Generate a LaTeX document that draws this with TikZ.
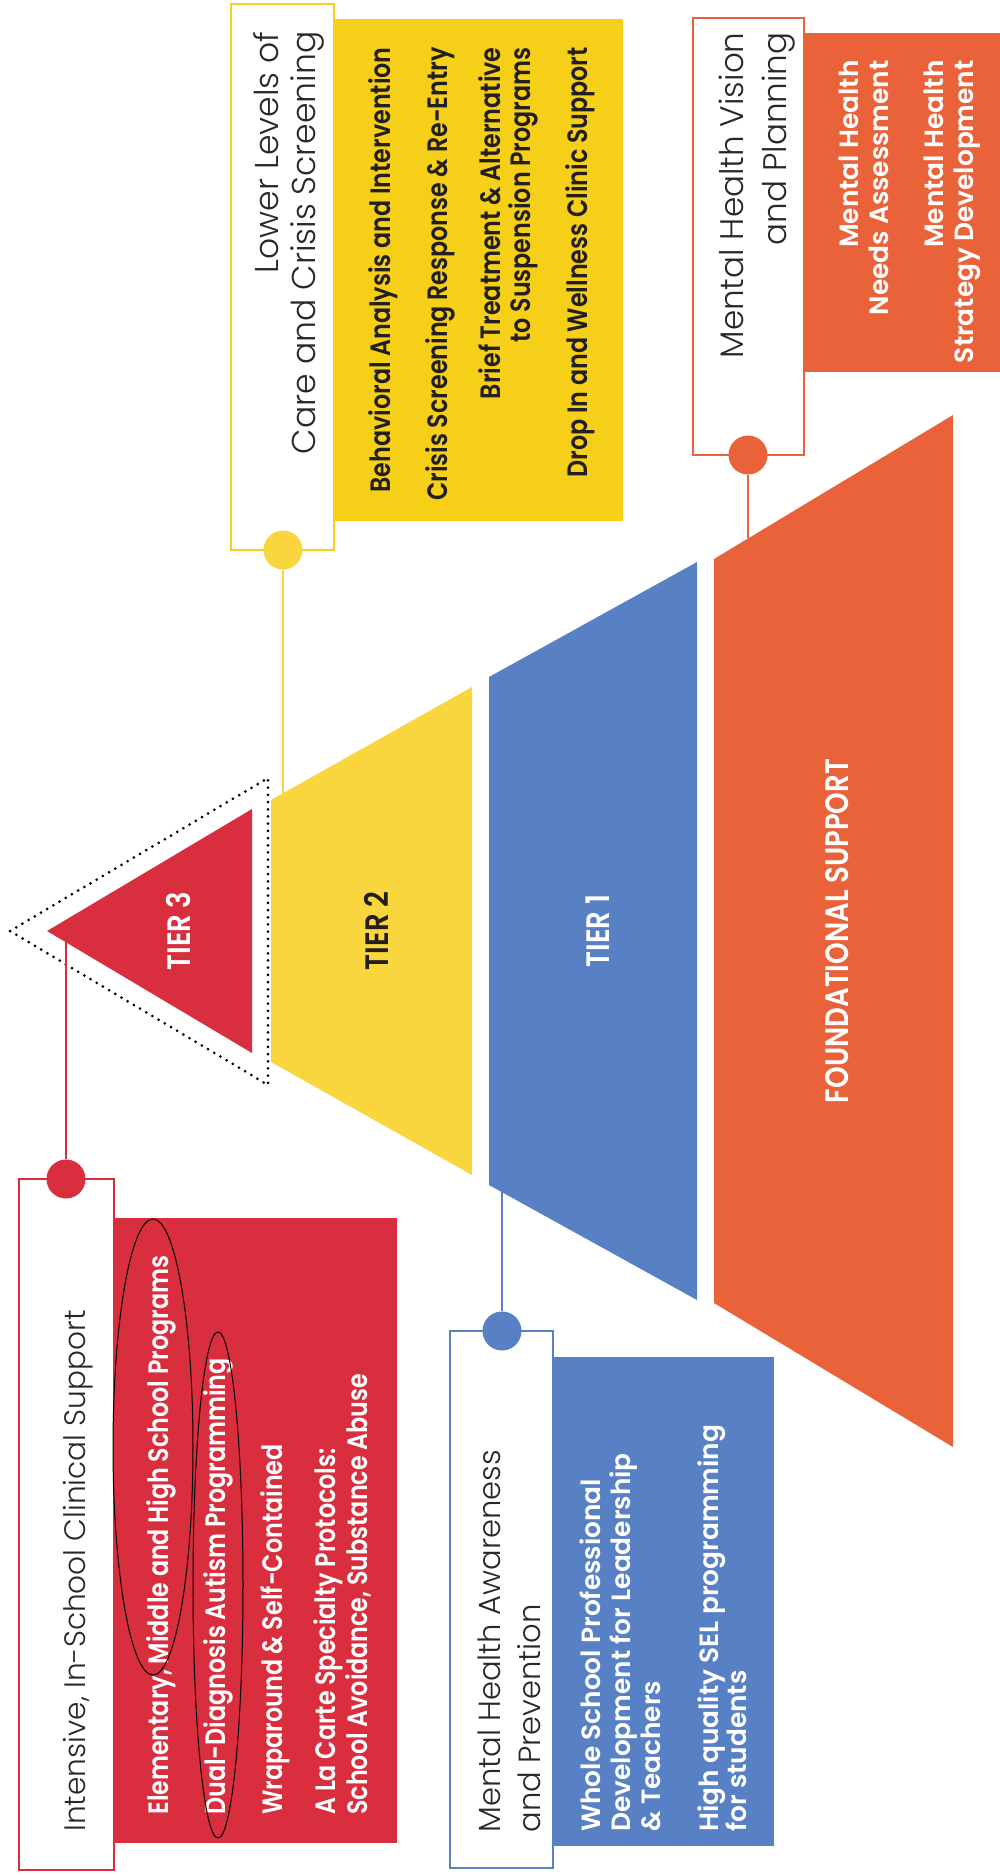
\documentclass[tikz,border=0pt]{standalone}
\usepackage{fontspec}
\usepackage{xcolor}
\usepackage{tikz}
\newfontfamily\lightfont{Poppins Light}
\newfontfamily\heavyfont{Poppins SemiBold}[FakeStretch=0.85]
\newfontfamily\wideheavyfont{Poppins SemiBold}
\definecolor{tierred}{RGB}{216,46,62}
\definecolor{tieryellow}{RGB}{250,214,62}
\definecolor{boxyellow}{RGB}{246,208,24}
\definecolor{tierblue}{RGB}{88,128,196}
\definecolor{tierorange}{RGB}{233,98,58}
\definecolor{inkdark}{RGB}{35,31,32}
\definecolor{titlegray}{RGB}{40,40,40}

\begin{document}
\begin{tikzpicture}[x=0.5pt, y=-0.5pt,
    heading/.style={rotate=90, inner sep=0pt, text=titlegray, font=\lightfont\fontsize{#1}{#1}\selectfont},
    item/.style={rotate=90, inner sep=0pt, font=\heavyfont\fontsize{14}{16}\selectfont},
    wideitem/.style={rotate=90, inner sep=0pt, font=\wideheavyfont\fontsize{#1}{#1}\selectfont},
    tierlabel/.style={rotate=90, font=\heavyfont\fontsize{16.2}{18}\selectfont},
    dot/.style={circle, inner sep=0pt, minimum size=19.5pt},
    hbox/.style={fill=white, line width=0.6pt}]
        \fill[white] (0,0) rectangle (1000,1875);

        % the pyramid
        \fill[tierred] (47,931) -- (252,809) -- (252,1053) -- cycle;
        \fill[tieryellow] (271,800) -- (472,687) -- (472,1175) -- (271,1062) -- cycle;
        \fill[tierblue] (489,677) -- (697,562) -- (697,1300) -- (489,1185) -- cycle;
        \fill[tierorange] (714,559) -- (953,415) -- (953,1447) -- (714,1303) -- cycle;
        \draw[line width=1.5pt, dash pattern=on 0pt off 3.6pt, line cap=round] (10,931) -- (268,778) -- (268,1085) -- cycle;

        \node[tierlabel, text=white] (t3) at (178,931) {TIER 3};
        \node[tierlabel, text=inkdark] (t2) at (376,931) {TIER 2};
        \node[tierlabel, text=white] (t1) at (598,931) {TIER 1};
        \node[tierlabel, text=white] (t0) at (837,931) {FOUNDATIONAL SUPPORT};

        % tier 3 panel
        \draw[hbox, draw=tierred] (19,1179) rectangle (114,1870);
        \fill[tierred] (114,1218) rectangle (397,1843);
        \node[dot, fill=tierred] (d3) at (66,1179) {};
        \coordinate (e3) at (66,942);
        \draw[tierred, line width=0.6pt] (d3) -- (e3);
        \node[heading=14.8, anchor=base west] (h3) at (85,1832) {Intensive, In-School Clinical Support};
        \node[item, text=white, anchor=base west] (a3) at (168,1815) {Elementary, Middle and High School Programs};
        \node[item, text=white, anchor=base west] (b3) at (225,1815) {Dual-Diagnosis Autism Programming};
        \node[item, text=white, anchor=base west] (c3) at (282,1815) {Wraparound \& Self-Contained};
        \node[item, text=white, anchor=base west] (f3) at (335,1815) {A La Carte Specialty Protocols:};
        \node[item, text=white, anchor=base west] (g3) at (367,1815) {School Avoidance, Substance Abuse};
        \draw[line width=0.5pt] (153,1447) ellipse [x radius=40, y radius=228];
        \draw[line width=0.5pt] (218,1585) ellipse [x radius=25, y radius=253];

        % tier 2 panel
        \draw[hbox, draw=boxyellow] (231,4) rectangle (334,550);
        \fill[boxyellow] (334,19) rectangle (623,521);
        \node[dot, fill=tieryellow] (d2) at (283,550) {};
        \coordinate (e2) at (283,794);
        \draw[tieryellow, line width=0.6pt] (d2) -- (e2);
        \node[heading=16.5, anchor=base east] (h2) at (278,31) {Lower Levels of};
        \node[heading=16.5, anchor=base east] (k2) at (315,31) {Care and Crisis Screening};
        \node[item, text=inkdark, anchor=base east] (a2) at (390,47) {Behavioral Analysis and Intervention};
        \node[item, text=inkdark, anchor=base east] (b2) at (447,47) {Crisis Screening Response \& Re-Entry};
        \node[item, text=inkdark, anchor=base east] (c2) at (500,47) {Brief Treatment \& Alternative};
        \node[item, text=inkdark, anchor=base east] (f2) at (530,47) {to Suspension Programs};
        \node[item, text=inkdark, anchor=base east] (g2) at (587,47) {Drop In and Wellness Clinic Support};

        % tier 1 panel
        \draw[hbox, draw=tierblue] (450,1331) rectangle (553,1868);
        \fill[tierblue] (553,1357) rectangle (774,1846);
        \node[dot, fill=tierblue] (d1) at (502,1331) {};
        \coordinate (e1) at (502,1192);
        \draw[tierblue, line width=0.6pt] (d1) -- (e1);
        \node[heading=15.3, anchor=base west] (h1) at (500,1833) {Mental Health Awareness};
        \node[heading=15.3, anchor=base west] (k1) at (540,1833) {and Prevention};
        \node[wideitem=13.2, text=white, anchor=base west] (a1) at (600,1832) {Whole School Professional};
        \node[wideitem=13.2, text=white, anchor=base west] (b1) at (630,1832) {Development for Leadership};
        \node[wideitem=13.2, text=white, anchor=base west] (c1) at (660,1832) {\& Teachers};
        \node[wideitem=13.2, text=white, anchor=base west] (f1) at (718,1832) {High quality SEL programming};
        \node[wideitem=13.2, text=white, anchor=base west] (g1) at (746,1832) {for students};

        % foundational panel
        \draw[hbox, draw=tierorange] (693,18) rectangle (804,455);
        \fill[tierorange] (804,33) rectangle (1000,372);
        \node[dot, fill=tierorange] (d0) at (748,455) {};
        \coordinate (e0) at (748,538);
        \draw[tierorange, line width=0.6pt] (d0) -- (e0);
        \node[heading=16.3, anchor=base east] (h0) at (743,32) {Mental Health Vision};
        \node[heading=16.3, anchor=base east] (k0) at (786,32) {and Planning};
        \node[wideitem=13.2, text=white, anchor=base east] (a0) at (858,60) {Mental Health};
        \node[wideitem=13.2, text=white, anchor=base east] (b0) at (888,60) {Needs Assessment};
        \node[wideitem=13.2, text=white, anchor=base east] (c0) at (943,60) {Mental Health};
        \node[wideitem=13.2, text=white, anchor=base east] (f0) at (973,60) {Strategy Development};
\end{tikzpicture}
\end{document}
